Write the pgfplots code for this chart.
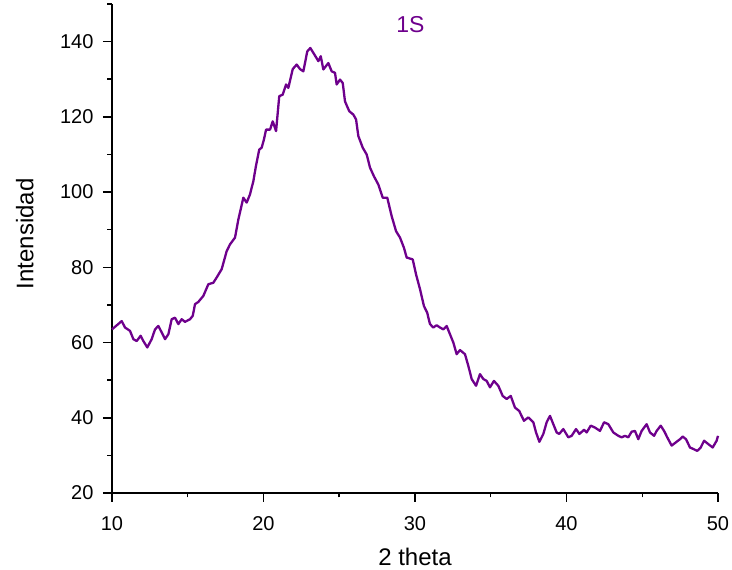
\documentclass[border=0pt]{standalone}
\usepackage{fontspec}
\setmainfont{Liberation Sans}
\usepackage{pgfplots}
\pgfplotsset{compat=1.18}
\usetikzlibrary{calc}
\definecolor{curve}{RGB}{110,0,140}

\begin{document}
\begin{tikzpicture}
\begin{axis}[
    scale only axis,
    width=606pt, height=489pt,
    xmin=10, xmax=50, ymin=20, ymax=150,
    axis lines=left,
    axis line style={-, line width=1.5pt},
    xtick={10,20,...,50}, ytick={20,40,...,140},
    minor xtick={15,25,...,45}, minor ytick={30,50,...,150},
    tick align=outside,
    major tick length=9pt, minor tick length=4.5pt,
    every tick/.style={black, line width=1.5pt},
    tick label style={font=\fontsize{20}{24}\selectfont},
    xticklabel style={yshift=-11pt},
    yticklabel style={xshift=-6pt},
    /pgf/number format/assume math mode=true,
    label style={font=\fontsize{24}{28}\selectfont},
    xlabel={2 theta}, ylabel={Intensidad},
    xlabel style={at={(axis description cs:0.5,-0.13)}, anchor=center},
    ylabel style={at={(axis description cs:-0.144,0.53)}, anchor=center},
    clip=false,
]
\addplot[curve, line width=2.3pt, line join=round] coordinates {
(10.00,63.5) (10.64,65.7) (10.86,64.0) (11.19,63.1) (11.41,60.9) (11.63,60.4)
(11.89,61.8) (12.07,60.4) (12.33,58.7) (12.62,60.9) (12.84,63.5) (13.06,64.4)
(13.28,62.7) (13.50,60.9) (13.72,62.2) (13.94,66.2) (14.16,66.6) (14.38,64.9)
(14.60,66.2) (14.82,65.5) (15.15,66.2) (15.33,67.1) (15.48,70.2) (15.70,70.8)
(16.03,72.4) (16.36,75.5) (16.69,75.9) (16.91,77.3) (17.24,79.5) (17.57,84.3)
(17.79,86.1) (18.12,87.9) (18.34,92.7) (18.67,98.5) (18.89,97.2) (19.11,99.4)
(19.33,102.9) (19.50,106.9) (19.72,111.3) (19.88,111.8) (20.03,114.0) (20.17,116.6)
(20.43,116.6) (20.61,118.8) (20.83,116.2) (21.04,125.5) (21.27,125.9) (21.49,128.6)
(21.64,127.7) (21.93,132.7) (22.19,133.9) (22.41,132.7) (22.63,132.1) (22.89,137.4)
(23.09,138.3) (23.40,136.3) (23.62,134.8) (23.78,136.1) (23.95,132.6) (24.28,134.3)
(24.50,132.1) (24.72,131.7) (24.83,128.6) (25.05,129.9) (25.23,129.0) (25.38,124.1)
(25.66,121.5) (25.93,120.6) (26.11,119.3) (26.26,114.9) (26.55,111.8) (26.81,110.0)
(27.03,106.5) (27.29,104.2) (27.58,102.0) (27.87,98.5) (28.17,98.5) (28.46,93.6)
(28.75,89.6) (29.01,87.9) (29.27,85.2) (29.45,82.6) (29.85,82.1) (30.07,78.1)
(30.33,74.2) (30.59,69.7) (30.80,68.0) (30.99,64.9) (31.21,64.0) (31.43,64.6)
(31.65,64.0) (31.87,63.5) (32.09,64.4) (32.31,62.2) (32.53,60.0) (32.75,56.9)
(32.97,58.0) (33.30,56.9) (33.52,53.8) (33.74,50.3) (34.03,48.5) (34.29,51.6)
(34.51,50.3) (34.73,49.8) (34.95,48.1) (35.21,49.8) (35.50,48.5) (35.79,45.8)
(36.05,45.0) (36.32,45.8) (36.60,42.7) (36.88,41.8) (37.19,39.2) (37.48,40.1)
(37.81,38.8) (37.99,36.1) (38.21,33.6) (38.47,35.7) (38.69,38.8) (38.91,40.5)
(39.13,38.3) (39.35,36.1) (39.52,35.7) (39.79,37.0) (40.12,34.8) (40.34,35.2)
(40.63,37.0) (40.85,35.7) (41.16,36.8) (41.33,36.1) (41.60,37.9) (41.88,37.4)
(42.21,36.5) (42.48,38.8) (42.76,38.3) (43.09,36.1) (43.42,35.2) (43.64,34.8)
(43.86,35.2) (44.08,34.8) (44.30,36.3) (44.52,36.5) (44.74,34.3) (44.96,36.5)
(45.29,38.3) (45.51,36.1) (45.78,35.2) (45.95,36.5) (46.22,37.9) (46.44,36.5)
(46.65,34.8) (46.94,32.6) (47.23,33.5) (47.49,34.3) (47.67,35.0) (47.89,34.3)
(48.15,32.1) (48.37,31.7) (48.63,31.2) (48.86,32.1) (49.08,33.9) (49.36,33.0)
(49.65,32.1) (49.91,33.9) (50.00,35.2)
};
\node[text=curve, font=\fontsize{23}{27}\selectfont] at (axis cs:29.7,144.5) {1S};
\end{axis}
\pgfresetboundingbox
\path ($(current axis.south west)+(-112pt,-77pt)$) rectangle ($(current axis.north east)+(14pt,4pt)$);
\end{tikzpicture}
\end{document}
